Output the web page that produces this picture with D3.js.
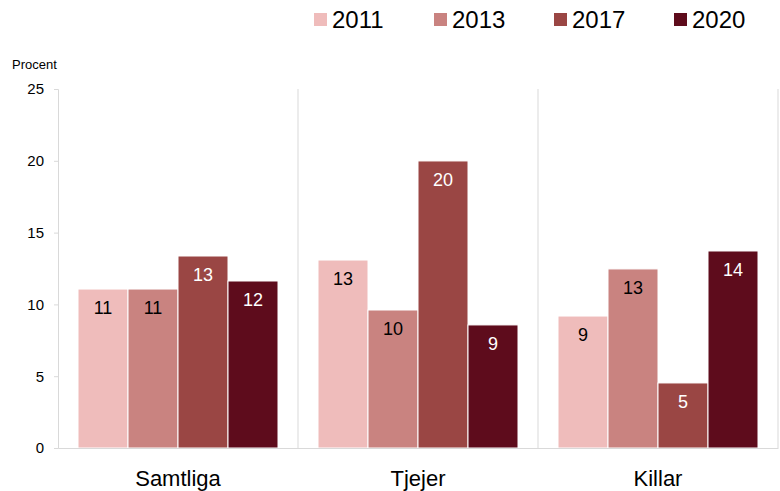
<!DOCTYPE html>
<html><head><meta charset="utf-8">
<script src="https://cdn.jsdelivr.net/npm/d3@7"></script>
<style>body{margin:0;background:#fff}svg{display:block}text{font-family:"Liberation Sans",Arial,sans-serif}</style>
</head><body><svg id="c" width="780" height="491"></svg>
<script>
const categories = ["Samtliga","Tjejer","Killar"];
const years = ["2011","2013","2017","2020"];
const v2011 = [11.07, 13.09, 9.19];
const v2013 = [11.07, 9.61, 12.47];
const v2017 = [13.37, 19.99, 4.53];
const v2020 = [11.63, 8.57, 13.72];
const labels2011 = ["11","13","9"];
const labels2013 = ["11","10","13"];
const labels2017 = ["13","20","5"];
const labels2020 = ["12","9","14"];
const yTicks = [0,5,10,15,20,25];
const colors = ["#efbcbb","#c98380","#9a4644","#5e0c1c"];
const labelColors = ["#000","#000","#fff","#fff"];

const series = [v2011, v2013, v2017, v2020];
const seriesLabels = [labels2011, labels2013, labels2017, labels2020];

const svg = d3.select("#c");
const m = {l:58, r:2, t:89, b:43};
const W = 780, H = 491;
const x0 = d3.scaleBand().domain(categories).range([m.l, W - m.r]).paddingInner(0).paddingOuter(0);
const x1 = d3.scaleBand().domain(years).range([0, x0.bandwidth()]).paddingOuter(0.4).paddingInner(0);
const y = d3.scaleLinear().domain([0,25]).range([H - m.b, m.t]);

// separators
svg.append("g").selectAll("line").data(categories).join("line")
  .attr("x1", d => x0(d) + x0.bandwidth()).attr("x2", d => x0(d) + x0.bandwidth())
  .attr("y1", y(25)).attr("y2", y(0)).attr("stroke", "#d9d9d9");

// y axis
const ya = svg.append("g").attr("transform", `translate(${m.l},0)`)
  .call(d3.axisLeft(y).tickValues(yTicks).tickSize(4).tickPadding(10));
ya.select(".domain").attr("stroke", "#d9d9d9");
ya.selectAll(".tick line").attr("stroke", "#d9d9d9");
ya.selectAll("text").attr("font-size", 15).attr("fill", "#000").attr("font-family", '"Liberation Sans",Arial,sans-serif');

// bars
const data = [];
categories.forEach((c, ci) => years.forEach((yr, si) => data.push({c, yr, si, v: series[si][ci], lab: seriesLabels[si][ci]})));
const bars = svg.append("g");
bars.selectAll("rect").data(data).join("rect")
  .attr("x", d => x0(d.c) + x1(d.yr)).attr("width", x1.bandwidth())
  .attr("y", d => y(d.v)).attr("height", d => y(0) - y(d.v))
  .attr("fill", d => colors[d.si]).attr("stroke", "#fff").attr("stroke-width", 1);
bars.selectAll("text").data(data).join("text")
  .attr("x", d => x0(d.c) + x1(d.yr) + x1.bandwidth()/2)
  .attr("y", d => y(d.v) + 25)
  .attr("text-anchor", "middle").attr("font-size", 18)
  .attr("fill", d => labelColors[d.si]).text(d => d.lab);

// x axis
const xa = svg.append("g").attr("transform", `translate(0,${y(0)})`)
  .call(d3.axisBottom(x0).tickSize(0).tickPadding(22));
xa.select(".domain").attr("stroke", "#d9d9d9");
xa.selectAll("text").attr("font-size", 22).attr("fill", "#000").attr("font-family", '"Liberation Sans",Arial,sans-serif');

// y title
svg.append("text").attr("x", 12).attr("y", 69).attr("font-size", 13).text("Procent");

// legend
const lg = svg.append("g").selectAll("g").data(years).join("g")
  .attr("transform", (d, i) => `translate(${314 + i*120},13)`);
lg.append("rect").attr("width", 13).attr("height", 13).attr("fill", (d, i) => colors[i]);
lg.append("text").attr("x", 18).attr("y", 15).attr("font-size", 24).text(d => d);
</script></body></html>
